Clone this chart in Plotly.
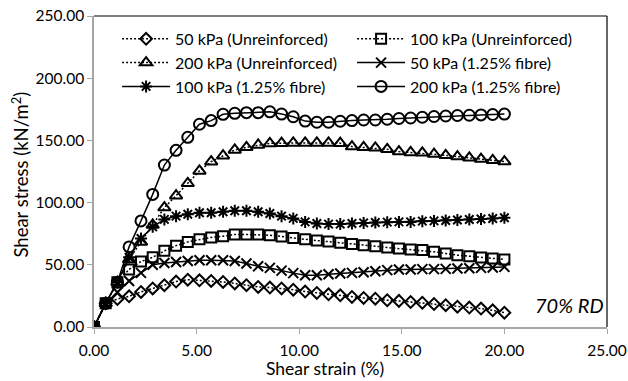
import plotly.graph_objects as go

strain = [0.00, 0.57, 1.14, 1.71, 2.29, 2.86, 3.43, 4.00, 4.57, 5.14, 5.71, 6.29,
          6.86, 7.43, 8.00, 8.57, 9.14, 9.71, 10.29, 10.86, 11.43, 12.00, 12.57, 13.14,
          13.71, 14.29, 14.86, 15.43, 16.00, 16.57, 17.14, 17.71, 18.29, 18.86, 19.43, 20.00]

unr_50 = [0, 19, 22.5, 24.7, 28.2, 31.0, 33.6, 36.5, 38.0, 37.5, 37.0, 36.2,
          35.0, 33.6, 32.2, 31.7, 31.0, 30.0, 28.5, 27.4, 26.3, 25.5, 24.2, 23.4,
          22.8, 21.5, 21.0, 20.1, 19.5, 18.5, 17.5, 16.3, 15.6, 14.8, 13.4, 11.5]
unr_100 = [0, 19, 36, 46.3, 52.7, 56.0, 61.2, 65.4, 68.4, 70.5, 72.0, 73.0,
           74.4, 74.4, 74.4, 73.8, 72.8, 71.5, 70.5, 69.5, 68.7, 67.8, 66.8, 65.8,
           65.0, 63.9, 63.1, 62.3, 61.8, 60.4, 59.1, 57.7, 56.9, 55.9, 55.1, 54.3]
unr_200 = [0, 19, 36, 54.3, 68.4, 82.0, 96.0, 105.6, 115.5, 125.5, 132.9, 137.7,
           142.3, 144.4, 146.3, 147.6, 147.8, 148.0, 148.0, 148.0, 148.0, 147.8, 145.0, 144.4,
           144.0, 142.8, 141.0, 140.3, 140.0, 139.0, 138.0, 137.0, 136.0, 135.0, 134.0, 133.0]
fib_50 = [0, 19, 28, 37.0, 43.5, 50.0, 51.5, 52.3, 53.1, 53.7, 53.7, 53.7,
          53.1, 51.0, 48.9, 47.5, 45.3, 43.3, 41.6, 41.6, 42.4, 43.0, 43.5, 44.0,
          44.8, 45.7, 46.2, 46.2, 46.5, 46.5, 46.7, 47.0, 47.2, 47.5, 47.8, 48.3]
fib_100 = [0, 19, 36, 56.0, 71.2, 80.5, 86.5, 89.1, 90.7, 91.8, 91.8, 92.6,
           93.4, 93.4, 92.6, 91.3, 89.1, 87.3, 84.5, 83.2, 82.7, 82.7, 83.2, 83.7,
           84.0, 84.3, 84.5, 84.5, 85.1, 85.3, 85.6, 86.0, 86.4, 86.8, 87.2, 87.8]
fib_200 = [0, 19, 36, 64.4, 85.3, 106.6, 130.2, 142.0, 152.5, 163.0, 165.9, 171.0,
           171.8, 172.3, 172.3, 173.0, 171.2, 169.0, 165.5, 164.6, 164.6, 165.4, 165.9, 166.4,
           166.4, 167.0, 167.6, 168.0, 168.6, 169.2, 169.6, 170.0, 170.2, 170.5, 170.8, 171.2]

names = ["50 kPa (Unreinforced)", "100 kPa (Unreinforced)", "200 kPa (Unreinforced)",
         "50 kPa (1.25% fibre)", "100 kPa (1.25% fibre)", "200 kPa (1.25% fibre)"]
series = [unr_50, unr_100, unr_200, fib_50, fib_100, fib_200]
symbols = ["diamond-open", "square-open", "triangle-up-open", "x-thin-open", "asterisk-open", "circle-open"]
sizes = [9, 10, 11, 10, 10, 11]
dashes = ["2px,2px", "2px,2px", "2px,2px", "solid", "solid", "solid"]

FONT = "Lato"
fig = go.Figure()
for nm, ys, sym, sz, ds in zip(names, series, symbols, sizes, dashes):
    fig.add_trace(go.Scatter(
        x=strain, y=ys, name=nm, mode="lines+markers",
        line=dict(color="black", width=1.5, dash=ds),
        marker=dict(symbol=sym, size=sz, color="black", line=dict(color="black", width=2)),
    ))

fig.add_annotation(x=0.998, y=0.07, xref="paper", yref="paper", text="<i>70% RD</i>",
                   showarrow=False, xanchor="right", yanchor="middle",
                   font=dict(family=FONT, size=20, color="black"))
# axis titles (positioned as in the reference)
fig.add_annotation(x=0.451, y=-0.133, xref="paper", yref="paper", text="Shear strain (%)",
                   showarrow=False, xanchor="center", yanchor="middle",
                   font=dict(family=FONT, size=17.5, color="black"))
fig.add_annotation(x=-0.143, y=0.489, xref="paper", yref="paper",
                   text="Shear stress (kN/m<sup>2</sup>)", textangle=-90,
                   showarrow=False, xanchor="center", yanchor="middle",
                   font=dict(family=FONT, size=18.5, color="black"))

# top and right border of plot area
fig.add_shape(type="line", xref="paper", yref="paper", x0=0, x1=1, y0=1, y1=1,
              line=dict(color="black", width=1.2))
fig.add_shape(type="line", xref="paper", yref="paper", x0=1, x1=1, y0=0, y1=1,
              line=dict(color="black", width=1.2))

fig.update_layout(
    width=628, height=381,
    margin=dict(l=94, r=21, t=16, b=54),
    paper_bgcolor="white", plot_bgcolor="white",
    font=dict(family=FONT, size=14, color="black"),
    showlegend=True,
    legend=dict(orientation="h", x=0.045, y=0.981, xanchor="left", yanchor="top",
                entrywidth=172, itemwidth=48, bgcolor="rgba(255,255,255,0)",
                font=dict(family=FONT, size=16, color="black")),
    xaxis=dict(range=[0, 25], tickvals=[0, 5, 10, 15, 20, 25], tickformat=".2f",
               showgrid=False, zeroline=False, showline=True, linecolor="#a6a6a6", linewidth=1.5,
               ticks="outside", tickcolor="#a6a6a6", ticklen=5, ticklabelstandoff=4,
               automargin=False, tickfont=dict(size=15.5)),
    yaxis=dict(range=[0, 250], tickvals=[0, 50, 100, 150, 200, 250], tickformat=".2f",
               showgrid=False, zeroline=False, showline=True, linecolor="#a6a6a6", linewidth=1.5,
               ticks="outside", tickcolor="#a6a6a6", ticklen=5,
               automargin=False, tickfont=dict(size=15.5)),
)

fig.write_html("out.html")
